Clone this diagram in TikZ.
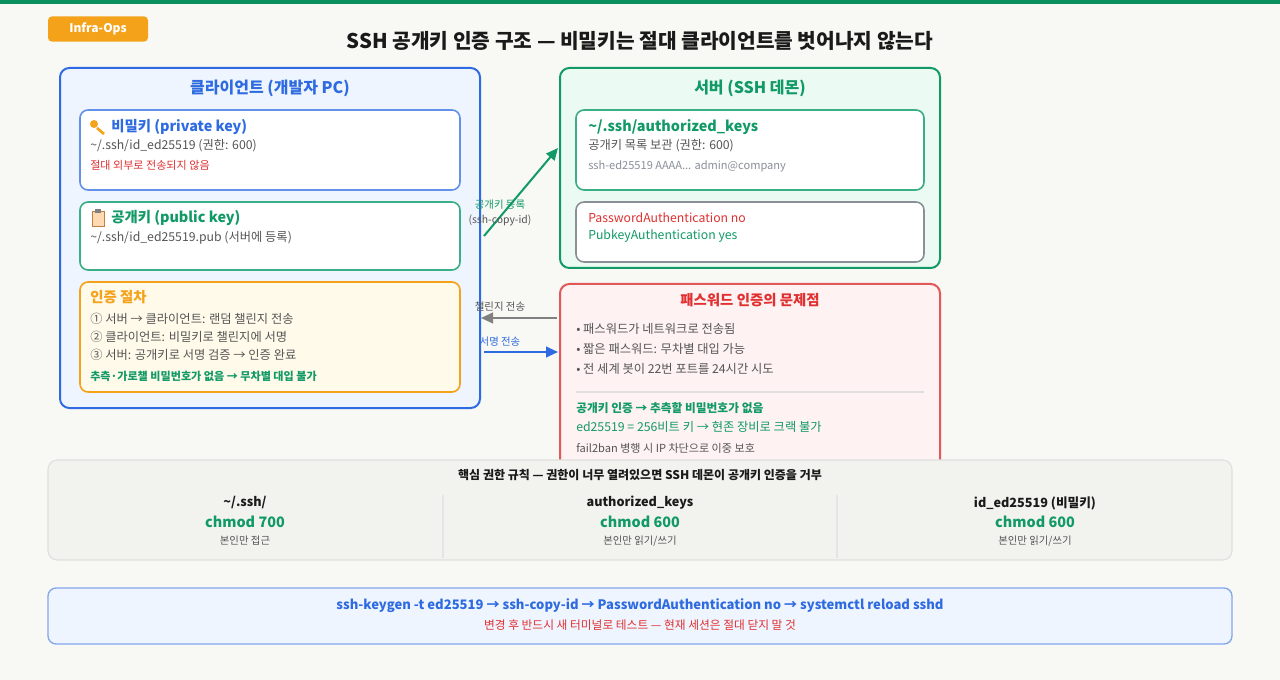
\documentclass[tikz,border=0pt]{standalone}
\usepackage{fontspec}
\setmainfont{Noto Sans CJK KR}
\usetikzlibrary{arrows.meta}
\definecolor{bg}{HTML}{F8F8F4}
\definecolor{topg}{HTML}{0A8F5F}
\definecolor{orng}{HTML}{F5A21B}
\definecolor{blu}{HTML}{2F6BE0}
\definecolor{blufill}{HTML}{EEF5FF}
\definecolor{grn}{HTML}{119966}
\definecolor{grnfill}{HTML}{EBFAF2}
\definecolor{grnb}{HTML}{3AAE84}
\definecolor{red1}{HTML}{E03030}
\definecolor{redb}{HTML}{E05858}
\definecolor{redfill}{HTML}{FEF2F2}
\definecolor{gry}{HTML}{555555}
\definecolor{lgry}{HTML}{8A8F98}
\definecolor{ylfill}{HTML}{FFFAEA}
\definecolor{dark}{HTML}{1A1A1A}
\definecolor{rulefill}{HTML}{F2F3EE}
\tikzset{
 box/.style={rounded corners=7pt,line width=1.5pt},
 sub/.style={rounded corners=6pt,line width=1.2pt,fill=white},
 t/.style={anchor=west,inner sep=0pt,font=\fontsize{9.2}{10}\selectfont},
 tb/.style={anchor=west,inner sep=0pt,font=\fontsize{10.8}{12}\selectfont\bfseries},
 ts/.style={anchor=west,inner sep=0pt,font=\fontsize{8.3}{9}\selectfont},
 c/.style={inner sep=0pt,font=\fontsize{9}{10}\selectfont},
 arr/.style={line width=1.5pt,-{Triangle[length=9pt,width=8pt]}},
}
\begin{document}
\begin{tikzpicture}[x=0.75pt,y=-0.75pt]
\fill[bg] (0,0) rectangle (1280,680);
\useasboundingbox (0,0) rectangle (1280,680);
\fill[topg] (0,0) rectangle (1280,4);
% badge
\node[fill=orng,rounded corners=3pt,minimum width=75pt,minimum height=19pt,inner sep=0pt,text=white,font=\fontsize{9}{10}\selectfont\bfseries] (badge) at (98,29) {Infra-Ops};
\node[font=\fontsize{15.2}{17}\selectfont\bfseries,text=dark] (title) at (640,41) {SSH 공개키 인증 구조 — 비밀키는 절대 클라이언트를 벗어나지 않는다};
% client
\draw[box,draw=blu,fill=blufill] (60,68) rectangle (480,408);
\node[c,font=\fontsize{12}{14}\selectfont\bfseries,text=blu] (ctitle) at (270,88) {클라이언트 (개발자 PC)};
\draw[sub,draw=blu!75] (80,110) rectangle (460,190);
\fill[orng] (94,124) circle (4); \draw[orng,line width=2pt] (97,128)--(104,134);
\node[tb,text=blu] (pk) at (111,127) {비밀키 (private key)};
\node[t,text=gry] (pk1) at (90,146) {\textasciitilde/.ssh/id\_ed25519 (권한: 600)};
\node[ts,text=red1] (pk2) at (90,165) {절대 외부로 전송되지 않음};
\draw[sub,draw=grnb] (80,202) rectangle (460,270);
\draw[fill=orange!30,draw=brown] (92,211) rectangle (104,226); \fill[gray] (95,209) rectangle (101,213);
\node[tb,text=grn] (pub) at (111,218) {공개키 (public key)};
\node[t,text=gry] (pub1) at (90,238) {\textasciitilde/.ssh/id\_ed25519.pub (서버에 등록)};
\draw[sub,draw=orng,fill=ylfill] (80,282) rectangle (460,392);
\node[tb,text=orng] (ap) at (90,297) {인증 절차};
\node[t,text=gry] (ap1) at (90,319) {① 서버 → 클라이언트: 랜덤 챌린지 전송};
\node[t,text=gry] (ap2) at (90,337) {② 클라이언트: 비밀키로 챌린지에 서명};
\node[t,text=gry] (ap3) at (90,355) {③ 서버: 공개키로 서명 검증 → 인증 완료};
\node[ts,text=grn,font=\fontsize{8.3}{9}\selectfont\bfseries] (ap4) at (90,376) {추측·가로챌 비밀번호가 없음 → 무차별 대입 불가};
% server
\draw[box,draw=grn,fill=grnfill] (560,68) rectangle (940,268);
\node[c,font=\fontsize{12}{14}\selectfont\bfseries,text=grn] (stitle) at (750,88) {서버 (SSH 데몬)};
\draw[sub,draw=grnb] (576,110) rectangle (924,190);
\node[tb,text=grn] (ak) at (588,127) {\textasciitilde/.ssh/authorized\_keys};
\node[t,text=gry] (ak1) at (588,146) {공개키 목록 보관 (권한: 600)};
\node[ts,text=lgry] (ak2) at (588,166) {ssh-ed25519 AAAA... admin@company};
\draw[sub,draw=lgry] (576,202) rectangle (924,262);
\node[t,text=red1] (cf1) at (588,218) {PasswordAuthentication no};
\node[t,text=grn] (cf2) at (588,236) {PubkeyAuthentication yes};
% password
\draw[box,draw=redb,fill=redfill] (560,284) rectangle (940,475);
\node[c,font=\fontsize{10.8}{12}\selectfont\bfseries,text=red1] (pwt) at (750,300) {패스워드 인증의 문제점};
\node[t,text=gry] (pw1) at (576,329) {• 패스워드가 네트워크로 전송됨};
\node[t,text=gry] (pw2) at (576,349) {• 짧은 패스워드: 무차별 대입 가능};
\node[t,text=gry] (pw3) at (576,369) {• 전 세계 봇이 22번 포트를 24시간 시도};
\draw[gray!25,line width=0.8pt] (576,392)--(924,392);
\node[ts,text=grn,font=\fontsize{8.8}{10}\selectfont\bfseries] (pw4) at (576,408) {공개키 인증 → 추측할 비밀번호가 없음};
\node[t,text=grn] (pw5) at (576,427) {ed25519 = 256비트 키 → 현존 장비로 크랙 불가};
\node[ts,text=gry] (pw6) at (576,448) {fail2ban 병행 시 IP 차단으로 이중 보호};
% arrows
\coordinate (a1s) at (484,236); \coordinate (a1e) at (558,148);
\draw[arr,grn] (a1s)--(a1e);
\node[c,font=\fontsize{7.8}{9}\selectfont,text=grn] (l1) at (500,205) {공개키 등록};
\node[c,font=\fontsize{7.8}{9}\selectfont,text=gry] (l1b) at (500,220) {(ssh-copy-id)};
\coordinate (a2s) at (557,318); \coordinate (a2e) at (481,318);
\draw[arr,gray] (a2s)--(a2e);
\node[c,font=\fontsize{7.8}{9}\selectfont,text=gry] (l2) at (500,307) {챌린지 전송};
\coordinate (a3s) at (484,352); \coordinate (a3e) at (558,352);
\draw[arr,blu] (a3s)--(a3e);
\node[c,font=\fontsize{7.8}{9}\selectfont,text=blu] (l3) at (500,342) {서명 전송};
% rules
\draw[rounded corners=7pt,draw=gray!25,fill=rulefill,line width=0.8pt] (48,460) rectangle (1232,560);
\node[c,font=\fontsize{9}{10}\selectfont\bfseries,text=dark] (rt) at (640,475) {핵심 권한 규칙 — 권한이 너무 열려있으면 SSH 데몬이 공개키 인증을 거부};
\draw[gray!20,line width=0.8pt] (443,495)--(443,558) (837,495)--(837,558);
\node[c,font=\fontsize{9.5}{11}\selectfont\bfseries,text=dark] (r1a) at (245,503) {\textasciitilde/.ssh/};
\node[c,font=\fontsize{9.5}{11}\selectfont\bfseries,text=dark] (r2a) at (640,503) {authorized\_keys};
\node[c,font=\fontsize{9.5}{11}\selectfont\bfseries,text=dark] (r3a) at (1035,503) {id\_ed25519 (비밀키)};
\node[c,font=\fontsize{10.8}{12}\selectfont\bfseries,text=grn] (r1b) at (245,522) {chmod 700};
\node[c,font=\fontsize{10.8}{12}\selectfont\bfseries,text=grn] (r2b) at (640,522) {chmod 600};
\node[c,font=\fontsize{10.8}{12}\selectfont\bfseries,text=grn] (r3b) at (1035,522) {chmod 600};
\node[c,font=\fontsize{7.8}{9}\selectfont,text=gry] (r1c) at (245,541) {본인만 접근};
\node[c,font=\fontsize{7.8}{9}\selectfont,text=gry] (r2c) at (640,541) {본인만 읽기/쓰기};
\node[c,font=\fontsize{7.8}{9}\selectfont,text=gry] (r3c) at (1035,541) {본인만 읽기/쓰기};
% bottom
\draw[rounded corners=6pt,draw=blu!60,fill=blufill,line width=1pt] (48,588) rectangle (1232,644);
\node[c,font=\fontsize{9.8}{11}\selectfont\bfseries,text=blu] (b1) at (640,606) {ssh-keygen -t ed25519 → ssh-copy-id → PasswordAuthentication no → systemctl reload sshd};
\node[c,font=\fontsize{8.8}{10}\selectfont,text=red1] (b2) at (640,625) {변경 후 반드시 새 터미널로 테스트 — 현재 세션은 절대 닫지 말 것};
\end{tikzpicture}
\end{document}
